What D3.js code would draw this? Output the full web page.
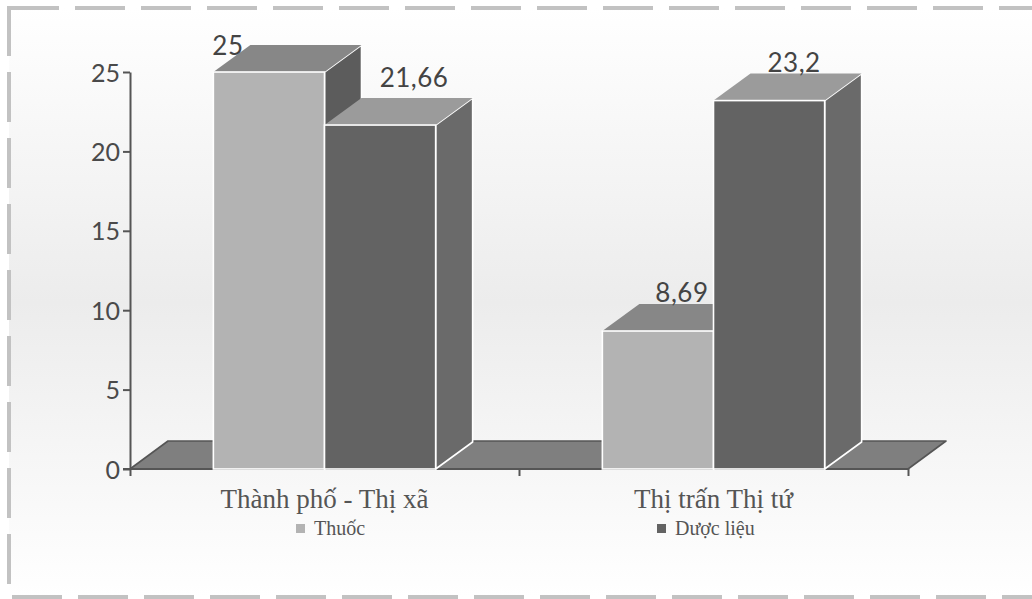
<!DOCTYPE html>
<html>
<head>
<meta charset="utf-8">
<script src="https://cdn.jsdelivr.net/npm/d3@7"></script>
<style>
  body { margin: 0; background: #fff; }
  svg { display: block; }
</style>
</head>
<body>
<svg id="chart" width="1032" height="599"></svg>
<script>
// ---- data ----
const categories = ["Thành phố - Thị xã", "Thị trấn Thị tứ"];
const seriesNames = ["Thuốc", "Dược liệu"];
const thuoc = [25, 8.69];
const duocLieu = [21.66, 23.2];
const yTicks = [0, 5, 10, 15, 20, 25];

// ---- drawing ----
const W = 1032, H = 599;
const svg = d3.select("#chart");
const defs = svg.append("defs");

const grad = defs.append("linearGradient").attr("id", "bg")
  .attr("x1", 0).attr("y1", 0).attr("x2", 0).attr("y2", 1);
grad.append("stop").attr("offset", "0%").attr("stop-color", "#ffffff");
grad.append("stop").attr("offset", "50%").attr("stop-color", "#ececec");
grad.append("stop").attr("offset", "100%").attr("stop-color", "#ffffff");

svg.append("rect").attr("width", W).attr("height", H).attr("fill", "#fff");
svg.append("rect").attr("x", 9).attr("y", 8).attr("width", W).attr("height", 589)
  .attr("fill", "url(#bg)");
// dashed frame
svg.append("rect").attr("x", 9).attr("y", 8).attr("width", W + 20).attr("height", 589)
  .attr("fill", "none").attr("stroke", "#c2c2c2").attr("stroke-width", 4)
  .attr("stroke-dasharray", "50,16");

const vn = d3.formatLocale({decimal: ",", thousands: ".", grouping: [3], currency: ["", "đ"]});
const fmt = vn.format(".4~g");

const x = d3.scaleBand().domain(categories).range([130, 908]);
const xs = d3.scaleBand().domain(seriesNames).range([0, x.bandwidth()])
  .paddingInner(0).paddingOuter(0.75);
const y = d3.scaleLinear().domain([0, 25]).range([469, 72]);

const depthX = 38, depthY = 28;      // floor depth
const bdx = 37, bdy = 27;            // bar depth

const seriesData = [thuoc, duocLieu];
const frontColor = ["#b3b3b3", "#636363"];
const topColor = ["#878787", "#9b9b9b"];
const sideColor = ["#5c5c5c", "#6a6a6a"];
// label placement relative to the centre of each bar's back-top edge
const labelShift = [[[-78, 10], [-13, -2]], [[-3, -11], [-12, -2]]];

const y0 = y(0);
const [xl, xr] = x.range();

// floor
svg.append("path")
  .attr("d", `M${xl},${y0} L${xr},${y0} L${xr + depthX},${y0 - depthY} L${xl + depthX},${y0 - depthY} Z`)
  .attr("fill", "#7f7f7f").attr("stroke", "#555").attr("stroke-width", 1.6)
  .attr("stroke-linejoin", "round");

// y axis
const numFont = "Lato, 'DejaVu Sans', sans-serif";
const yAxis = svg.append("g").attr("transform", `translate(${xl},0)`)
  .call(d3.axisLeft(y).tickValues(yTicks).tickSize(7).tickSizeOuter(0).tickPadding(3));
yAxis.select(".domain").attr("stroke", "#555").attr("stroke-width", 2);
yAxis.selectAll(".tick line").attr("stroke", "#555").attr("stroke-width", 2);
yAxis.selectAll(".tick text").attr("fill", "#4a4a4a")
  .style("font-family", numFont).style("font-weight", 400)
  .style("font-size", "25px").attr("dy", "0.36em");

// x axis: ticks on category boundaries
const xEdge = d3.scaleLinear().domain([0, categories.length]).range([xl, xr]);
const xAxis = svg.append("g").attr("transform", `translate(0,${y0})`)
  .call(d3.axisBottom(xEdge).ticks(categories.length).tickSize(7).tickSizeOuter(0).tickFormat(""));
xAxis.select(".domain").attr("stroke", "#555").attr("stroke-width", 2)
  .attr("d", `M${xl - 7},0H${xr}`);
xAxis.selectAll(".tick line").attr("stroke", "#555").attr("stroke-width", 2);

// bars
categories.forEach((cat, ci) => {
  seriesNames.forEach((s, si) => {
    const v = seriesData[si][ci];
    const x0 = x(cat) + xs(s), x1 = x0 + xs.bandwidth();
    const yt = y(v);
    const g = svg.append("g");
    g.append("path")
      .attr("d", `M${x1},${yt} L${x1 + bdx},${yt - bdy} L${x1 + bdx},${y0 - bdy} L${x1},${y0} Z`)
      .attr("fill", sideColor[si]).attr("stroke", "#fff").attr("stroke-width", 1.6)
      .attr("stroke-linejoin", "round");
    g.append("path")
      .attr("d", `M${x0},${yt} L${x0 + bdx},${yt - bdy} L${x1 + bdx},${yt - bdy} L${x1},${yt} Z`)
      .attr("fill", topColor[si]);
    g.append("rect")
      .attr("x", x0).attr("y", yt).attr("width", x1 - x0).attr("height", y0 - yt)
      .attr("fill", frontColor[si]).attr("stroke", "#fff").attr("stroke-width", 1.6);
  });
});

// value labels
categories.forEach((cat, ci) => {
  seriesNames.forEach((s, si) => {
    const v = seriesData[si][ci];
    const x0 = x(cat) + xs(s), x1 = x0 + xs.bandwidth();
    const cx = (x0 + x1) / 2 + bdx, ty = y(v) - bdy;
    const [sx, sy] = labelShift[si][ci];
    svg.append("text")
      .attr("x", cx + sx).attr("y", ty + sy)
      .attr("text-anchor", "middle").attr("fill", "#444")
      .style("font-family", numFont).style("font-weight", 400)
      .style("font-size", "26px").style("letter-spacing", "0.5px")
      .text(fmt(v));
  });
});

// category labels
svg.selectAll("text.cat").data(categories).join("text")
  .attr("class", "cat")
  .attr("x", d => x(d) + x.bandwidth() / 2).attr("y", 508)
  .attr("text-anchor", "middle").attr("fill", "#555")
  .style("font-family", "'Liberation Serif', 'Times New Roman', serif")
  .style("font-size", "27px")
  .text(d => d);

// legend
const legendX = d3.scalePoint().domain(seriesNames).range([296, 657]);
const leg = svg.selectAll("g.legend").data(seriesNames).join("g")
  .attr("class", "legend")
  .attr("transform", d => `translate(${legendX(d)},535)`);
leg.append("rect").attr("x", 0).attr("y", -11).attr("width", 9).attr("height", 9)
  .attr("fill", (d, i) => frontColor[i]);
leg.append("text").attr("x", 18).attr("y", 0).attr("fill", "#555")
  .style("font-family", "'Liberation Serif', 'Times New Roman', serif")
  .style("font-size", "20px")
  .text(d => d);
</script>
</body>
</html>
